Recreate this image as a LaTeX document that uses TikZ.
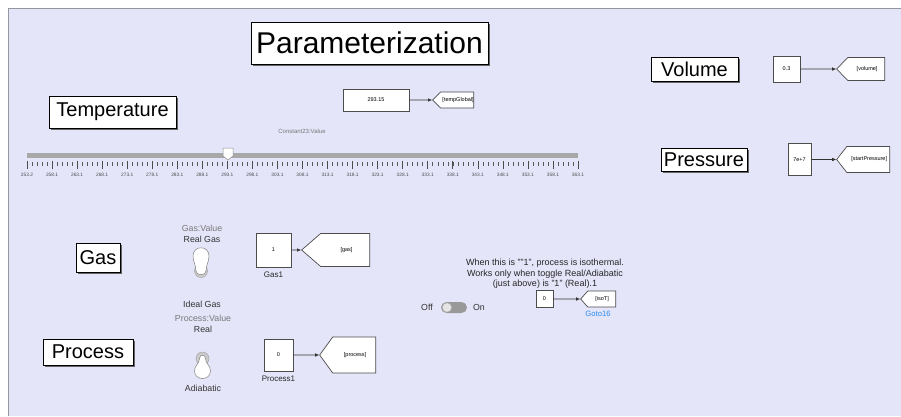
\documentclass[tikz,border=0pt]{standalone}
\usepackage{fontspec}
\setmainfont{Liberation Sans}
\usepackage{tikz}
\usetikzlibrary{shapes.symbols,shadows,arrows.meta}

\definecolor{canvasbg}{RGB}{229,229,250}
\definecolor{frameline}{RGB}{150,150,160}
\definecolor{trackgray}{RGB}{168,168,168}
\definecolor{labelgray}{RGB}{120,120,120}
\definecolor{linkblue}{RGB}{40,140,240}
\newcommand{\pxfont}[1]{\fontsize{#1}{#1}\selectfont}

\begin{document}
\begin{tikzpicture}[x=1pt, y=-1pt,
    titlebox/.style={draw=black, line width=0.7pt, fill=white, inner sep=0pt,
      drop shadow={shadow xshift=1.5pt, shadow yshift=-1.5pt, fill=black!60, opacity=1}},
    constblk/.style={draw=black!70, line width=0.7pt, fill=white, inner sep=0pt, font=\pxfont{5.5}},
    gotoblk/.style={signal, signal to=west, draw=black!70, line width=0.7pt, fill=white,
      inner sep=0pt, font=\pxfont{5.5}, anchor=east},
    wire/.style={black!80, line width=0.6pt, -{Latex[length=4pt,width=3.5pt]}},
    smalltext/.style={font=\pxfont{8.8}, text=black!80, inner sep=0pt},
    greytext/.style={font=\pxfont{8.8}, text=labelgray, inner sep=0pt},
    blklabel/.style={font=\pxfont{8}, text=black!85, inner sep=0pt}]

        \useasboundingbox (0,0) rectangle (901,416);
        % canvas
        \fill [white] (0,0) rectangle (901,416);
        \fill [canvasbg] (8,8) rectangle (901,416);
        \draw [frameline, line width=0.8pt] (8,416) -- (8,8) -- (901,8);

        % Parameterization
        \node [titlebox, minimum width=237, minimum height=42, font=\pxfont{30}]
          (paramTitle) at (369.5,43) {Parameterization};

        % Temperature
        \node [titlebox, minimum width=127, minimum height=32, font=\pxfont{20}]
          (tempTitle) at (112.5,112) {Temperature};
        \node [constblk, minimum width=66, minimum height=22] (tempConst) at (376,100) {293.15};
        \node [gotoblk, minimum width=39, minimum height=16, signal pointer angle=90]
          (tempGoto) at (474,100) {\,\,[tempGlobal]};
        \draw [wire] (tempConst) -- (tempGoto);
        \node [font=\pxfont{6}, text=labelgray] (sliderName) at (302,131) {Constant23:Value};

        % slider
        \draw [trackgray, line width=5pt] (27,155) -- (578,155);
        \foreach \i in {0,...,110}
          \draw [black!65, line width=0.5pt] ({27+\i*5.0091},162) -- ++(0,4);
        \foreach \k in {0,...,22}
          \draw [black!70, line width=0.6pt] ({27+\k*25.045},161) -- ++(0,8);
        \foreach \lbl [count=\k from 0] in {253.2,258.1,263.1,268.1,273.1,278.1,283.1,
            288.1,293.1,298.1,303.1,308.1,313.1,318.1,323.1,328.1,333.1,338.1,343.1,
            348.1,353.1,358.1,363.1}
          \node [font=\pxfont{4.8}, text=black!70, inner sep=0pt] (tick\k) at ({27+\k*25.045},174.5) {\lbl};
        % thumb
        \draw [black!45, fill=white, line width=0.5pt]
          (223,148) -- (233,148) -- (233,156) -- (228,160) -- (223,156) -- cycle;

        % Volume
        \node [titlebox, minimum width=87, minimum height=24, font=\pxfont{20}]
          (volTitle) at (694.5,69) {Volume};
        \node [constblk, minimum width=27, minimum height=26] (volConst) at (786.5,69) {0.3};
        \node [gotoblk, minimum width=48, minimum height=23, signal pointer angle=92]
          (volGoto) at (885,69) {\,\,[volume]};
        \draw [wire] (volConst) -- (volGoto);

        % Pressure
        \node [titlebox, minimum width=86, minimum height=23, font=\pxfont{20}]
          (presTitle) at (704,159.5) {Pressure};
        \node [constblk, minimum width=23, minimum height=32] (presConst) at (799.5,159.5) {7e+7};
        \node [gotoblk, minimum width=53, minimum height=26, signal pointer angle=104]
          (presGoto) at (890,159.5) {\,\,[startPressure]};
        \draw [wire] (presConst) -- (presGoto);

        % Gas
        \node [titlebox, minimum width=44, minimum height=29, font=\pxfont{20}]
          (gasTitle) at (98,258) {Gas};
        \node [greytext] (gasValue) at (202,228) {Gas:Value};
        \node [smalltext] (gasReal) at (202,239) {Real Gas};
        \node [smalltext] (gasIdeal) at (202,304) {Ideal Gas};
        \draw [black!40, fill=black!20] (201,271) circle (6.5);
        \draw [black!50, fill=white, line width=0.5pt]
          (193,256) .. controls (193,245) and (209,245) .. (209,256)
          .. controls (209,262) and (206,265) .. (206,271)
          .. controls (206,276) and (196,276) .. (196,271)
          .. controls (196,265) and (193,262) .. (193,256) -- cycle;
        \node [constblk, minimum width=35, minimum height=34] (gasConst) at (273.5,250) {1};
        \node [blklabel, below=4pt] (gasName) at (gasConst.south) {Gas1};
        \node [gotoblk, minimum width=68, minimum height=33, signal pointer angle=82]
          (gasGoto) at (370,250) {\,\,\,[gas]};
        \draw [wire] (gasConst) -- (gasGoto);

        % Process
        \node [titlebox, minimum width=90, minimum height=26, font=\pxfont{20}]
          (procTitle) at (88,352) {Process};
        \node [greytext] (procValue) at (203,318) {Process:Value};
        \node [smalltext] (procReal) at (203,329) {Real};
        \node [smalltext] (procAdia) at (203,388) {Adiabatic};
        \draw [black!40, fill=black!20] (202.5,358.5) circle (6.5);
        \draw [black!50, fill=white, line width=0.5pt]
          (199.5,358.5) .. controls (199.5,354) and (205.5,354) .. (205.5,358.5)
          .. controls (205.5,364) and (210.5,365) .. (210.5,371)
          .. controls (210.5,381) and (194.5,381) .. (194.5,371)
          .. controls (194.5,365) and (199.5,364) .. (199.5,358.5) -- cycle;
        \node [constblk, minimum width=29, minimum height=32] (procConst) at (278.5,355) {0};
        \node [blklabel, below=4pt] (procName) at (procConst.south) {Process1};
        \node [gotoblk, minimum width=56, minimum height=36, signal pointer angle=108]
          (procGoto) at (376,355) {\,\,[process]};
        \draw [wire] (procConst) -- (procGoto);

        % isothermal switch
        \node [align=center, font=\pxfont{9}, text=black!85, inner sep=0pt] (isoNote) at (545,274)
          {When this is ""1", process is isothermal.\\[1.6pt]
           Works only when toggle Real/Adiabatic\\[1.6pt]
           (just above) is "1" (Real).1};
        \node [smalltext] (isoOff) at (427,307.5) {Off};
        \node [smalltext] (isoOn) at (479,307.5) {On};
        \fill [black!40, rounded corners=5.5pt] (441,302) rectangle (467,313);
        \draw [black!30, fill=black!10] (447,307.5) circle (4.6);
        \node [constblk, minimum width=17, minimum height=17] (isoConst) at (544.5,299) {0};
        \node [gotoblk, minimum width=35, minimum height=16, signal pointer angle=97]
          (isoGoto) at (616,299) {\,[isoT]};
        \draw [wire] (isoConst) -- (isoGoto);
        \node [font=\pxfont{7.7}, text=linkblue, inner sep=0pt] (isoName) at (598,313.5) {Goto16};

\end{tikzpicture}
\end{document}
